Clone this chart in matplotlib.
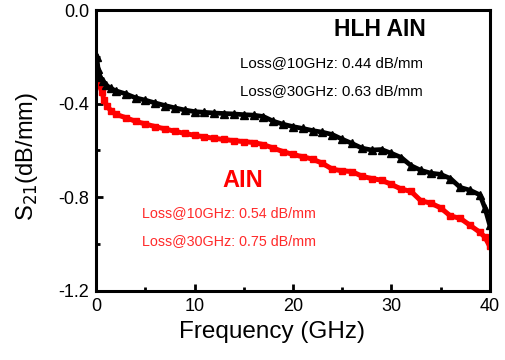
import matplotlib
matplotlib.use("Agg")
import matplotlib.pyplot as plt
from matplotlib.ticker import MultipleLocator

plt.rcParams['font.family'] = ['Liberation Sans', 'DejaVu Sans']

# HLH AlN (black triangles)
freq_hlh = [0.05, 0.2, 0.4, 0.7, 1, 1.5, 2, 3, 4, 5, 6, 7, 8, 9, 10, 11, 12, 13, 14, 15,
            16, 17, 18, 19, 20, 21, 22, 23, 24, 25, 26, 27, 28, 29, 30, 31, 32, 33, 34,
            35, 36, 37, 38, 39, 39.5, 40]
s21_hlh = [-0.20, -0.25, -0.285, -0.305, -0.32, -0.335, -0.345, -0.358, -0.375, -0.385,
           -0.397, -0.408, -0.418, -0.427, -0.434, -0.437, -0.44, -0.442, -0.444, -0.447,
           -0.449, -0.455, -0.475, -0.488, -0.498, -0.506, -0.515, -0.522, -0.532, -0.552,
           -0.57, -0.59, -0.598, -0.596, -0.612, -0.63, -0.665, -0.685, -0.697, -0.702,
           -0.72, -0.758, -0.77, -0.79, -0.845, -0.92]

# AlN (red squares)
freq_aln = [0.05, 0.3, 0.6, 0.8, 1.1, 1.5, 2, 3, 4, 5, 6, 7, 8, 9, 10, 11, 12, 13, 14, 15,
            16, 17, 18, 19, 20, 21, 22, 23, 24, 25, 26, 27, 28, 29, 30, 31, 32, 33, 34,
            35, 36, 37, 38, 39, 39.5, 40]
s21_aln = [-0.28, -0.32, -0.35, -0.385, -0.41, -0.43, -0.445, -0.46, -0.475, -0.487,
           -0.498, -0.508, -0.518, -0.527, -0.535, -0.542, -0.548, -0.553, -0.558, -0.562,
           -0.566, -0.575, -0.59, -0.605, -0.617, -0.627, -0.637, -0.655, -0.68, -0.687,
           -0.69, -0.71, -0.72, -0.727, -0.745, -0.765, -0.775, -0.815, -0.825, -0.845,
           -0.88, -0.89, -0.92, -0.95, -0.97, -1.01]

x_ticks = [0, 10, 20, 30, 40]
y_ticks = [0.0, -0.4, -0.8, -1.2]

fig = plt.figure(figsize=(5.06, 3.6), dpi=100)
ax = fig.add_axes([0.19, 0.192, 0.778, 0.780])

ax.plot(freq_aln, s21_aln, color='#ff0000', lw=3.6, marker='s', ms=5,
        solid_joinstyle='miter', zorder=2)
ax.plot(freq_hlh, s21_hlh, color='black', lw=3.4, marker='^', ms=5.5,
        solid_joinstyle='miter', zorder=3)

ax.set_xlim(0, 40)
ax.set_ylim(-1.2, 0.0)
ax.set_xticks(x_ticks)
ax.set_xticklabels([str(t) for t in x_ticks])
ax.set_yticks(y_ticks)
ax.set_yticklabels([f"{t:.1f}" for t in y_ticks])
ax.xaxis.set_minor_locator(MultipleLocator(5))
ax.yaxis.set_minor_locator(MultipleLocator(0.2))
ax.tick_params(which='both', direction='in', width=2, labelsize=13, pad=5)
ax.tick_params(which='major', length=5)
ax.tick_params(which='minor', length=3)
for sp in ax.spines.values():
    sp.set_linewidth(2.2)

ax.set_xlabel('Frequency (GHz)', fontsize=17.5, va='center')
ax.xaxis.set_label_coords(0.447, -0.146)
ax.set_ylabel('S$_{21}$(dB/mm)', fontsize=17, va='center')
ax.yaxis.set_label_coords(-0.175, 0.477)

ax.text(28.8, -0.085, 'HLH AIN', fontsize=16.5, fontweight='bold', ha='center', va='center')
ax.text(14.6, -0.225, 'Loss@10GHz: 0.44 dB/mm', fontsize=10.8, ha='left', va='center')
ax.text(14.6, -0.348, 'Loss@30GHz: 0.63 dB/mm', fontsize=10.8, ha='left', va='center')

ax.text(14.9, -0.727, 'AIN', fontsize=17, fontweight='bold', ha='center', va='center',
        color='#ff0000')
ax.text(4.65, -0.866, 'Loss@10GHz: 0.54 dB/mm', fontsize=10.3, ha='left', va='center',
        color='#ff2a2a')
ax.text(4.65, -0.985, 'Loss@30GHz: 0.75 dB/mm', fontsize=10.3, ha='left', va='center',
        color='#ff2a2a')

fig.savefig('out.png', dpi=100)
